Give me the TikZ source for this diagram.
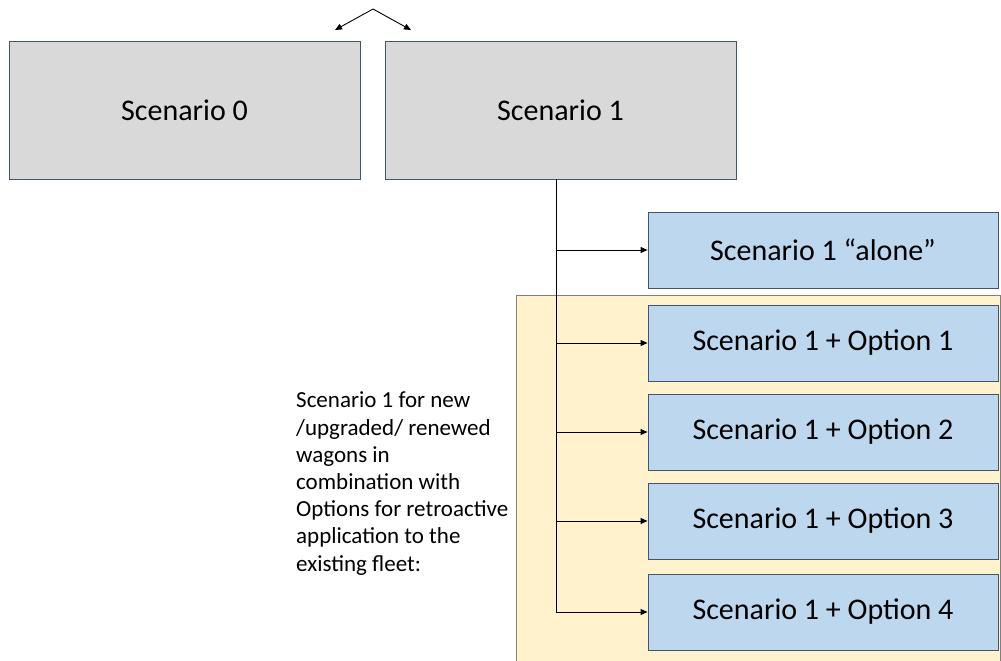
\documentclass[tikz,border=0pt]{standalone}
\usepackage{fontspec}
\setmainfont{Carlito}
\usetikzlibrary{arrows.meta}
\definecolor{boxgray}{HTML}{D9D9D9}
\definecolor{boxblue}{HTML}{BDD7EE}
\definecolor{boxedge}{HTML}{44546A}
\definecolor{panelfill}{HTML}{FFF2CC}
\definecolor{paneledge}{HTML}{7F7F7F}
\tikzset{
  graybox/.style={draw=boxedge, fill=boxgray, line width=0.9pt, minimum width=351pt, minimum height=138pt, inner sep=0pt, font=\fontsize{30}{36}\selectfont},
  bluebox/.style={draw=boxedge, fill=boxblue, line width=0.9pt, minimum width=350pt, minimum height=76pt, inner sep=0pt, font=\fontsize{30}{36}\selectfont},
  link/.style={line width=0.9pt, -{Triangle[length=7pt, width=6pt]}},
}
\begin{document}
\begin{tikzpicture}[x=1pt, y=-1pt]
  \useasboundingbox (0,0) rectangle (1001,661);
  % shaded panel behind the option boxes
  \draw[draw=paneledge, fill=panelfill, line width=1pt] (516,295) rectangle (1000,662);
  % top-level scenarios
  \node[graybox] (s0) at (184.5,110) {Scenario 0};
  \node[graybox] (s1) at (560.5,110) {Scenario 1};
  \coordinate (apex) at (373,9);
  \coordinate (tl) at (335,30);
  \coordinate (tr) at (411,30);
  \draw[link] (apex) -- (tl);
  \draw[link] (apex) -- (tr);
  % scenario 1 variants
  \node[bluebox] (alone) at (823,250) {Scenario 1 “alone”};
  \node[bluebox] (o1) at (823,343) {Scenario 1 + Option 1};
  \node[bluebox] (o2) at (823,432) {Scenario 1 + Option 2};
  \node[bluebox] (o3) at (823,521) {Scenario 1 + Option 3};
  \node[bluebox] (o4) at (823,612) {Scenario 1 + Option 4};
  % trunk line and branches
  \coordinate (trunk) at (556,179);
  \coordinate (b0) at (556,250);
  \coordinate (b1) at (556,343);
  \coordinate (b2) at (556,432);
  \coordinate (b3) at (556,521);
  \coordinate (b4) at (556,612);
  \draw[line width=0.9pt] (trunk) -- (b4);
  \draw[link] (b0) -- (alone.west);
  \draw[link] (b1) -- (o1.west);
  \draw[link] (b2) -- (o2.west);
  \draw[link] (b3) -- (o3.west);
  \draw[link] (b4) -- (o4.west);
  % explanatory note
  \node[anchor=base west, align=left, inner sep=0pt, font=\fontsize{23}{27.2}\selectfont] (note) at (296,571)
    {Scenario 1 for new\\/upgraded/ renewed\\wagons in\\combination with\\Options for retroactive\\application to the\\existing fleet:};
\end{tikzpicture}
\end{document}
